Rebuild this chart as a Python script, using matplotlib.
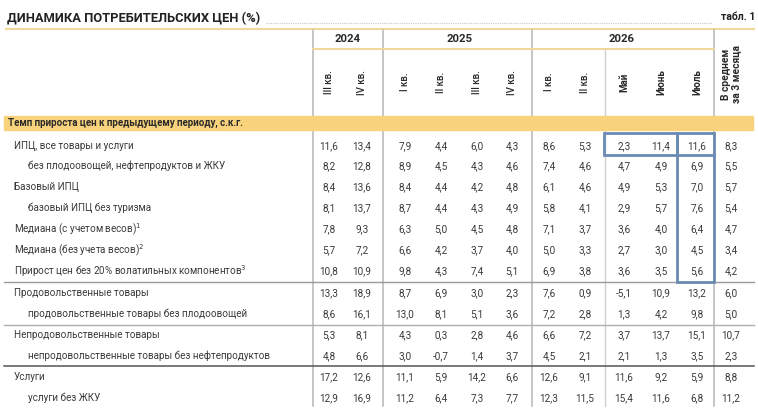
import matplotlib
matplotlib.use("Agg")
import matplotlib.pyplot as plt
from matplotlib.patches import Rectangle

plt.rcParams['font.family'] = ['Roboto', 'DejaVu Sans']

# --- data ---
years = ['2024', '2025', '2026']
periods = ['III кв.', 'IV кв.', 'I кв.', 'II кв.', 'III кв.', 'IV кв.',
           'I кв.', 'II кв.', 'Май', 'Июнь', 'Июль', 'В среднем\nза 3 месяца']
section = 'Темп прироста цен к предыдущему периоду, с.к.г.'

row_labels = [
    'ИПЦ, все товары и услуги',
    'без плодоовощей, нефтепродуктов и ЖКУ',
    'Базовый ИПЦ',
    'базовый ИПЦ без туризма',
    'Медиана (с учетом весов)$^1$',
    'Медиана (без учета весов)$^2$',
    'Прирост цен без 20% волатильных компонентов$^3$',
    'Продовольственные товары',
    'продовольственные товары без плодоовощей',
    'Непродовольственные товары',
    'непродовольственные товары без нефтепродуктов',
    'Услуги',
    'услуги без ЖКУ',
]
sub_rows = {1, 3, 8, 10, 12}

cpi_all      = [11.6, 13.4, 7.9, 4.4, 6.0, 4.3, 8.6, 5.3, 2.3, 11.4, 11.6, 8.3]
cpi_ex_vol   = [8.2, 12.8, 8.9, 4.5, 4.3, 4.6, 7.4, 4.6, 4.7, 4.9, 6.9, 5.5]
core         = [8.4, 13.6, 8.4, 4.4, 4.2, 4.8, 6.1, 4.6, 4.9, 5.3, 7.0, 5.7]
core_ex_tour = [8.1, 13.7, 8.7, 4.4, 4.3, 4.9, 5.8, 4.1, 2.9, 5.7, 7.6, 5.4]
median_w     = [7.8, 9.3, 6.3, 5.0, 4.5, 4.8, 7.1, 3.7, 3.6, 4.0, 6.4, 4.7]
median_nw    = [5.7, 7.2, 6.6, 4.2, 3.7, 4.0, 5.0, 3.3, 2.7, 3.0, 4.5, 3.4]
trimmed      = [10.8, 10.9, 9.8, 4.3, 7.4, 5.1, 6.9, 3.8, 3.6, 3.5, 5.6, 4.2]
food         = [13.3, 18.9, 8.7, 6.9, 3.0, 2.3, 7.6, 0.9, -5.1, 10.9, 13.2, 6.0]
food_ex_fv   = [8.6, 16.1, 13.0, 8.1, 5.1, 3.6, 7.2, 2.8, 1.3, 4.2, 9.8, 5.0]
nonfood      = [5.3, 8.1, 4.3, 0.3, 2.8, 4.6, 6.6, 7.2, 3.7, 13.7, 15.1, 10.7]
nonfood_ex   = [4.8, 6.6, 3.0, -0.7, 1.4, 3.7, 4.5, 2.1, 2.1, 1.3, 3.5, 2.3]
services     = [17.2, 12.6, 11.1, 5.9, 14.2, 6.6, 12.6, 9.1, 11.6, 9.2, 5.9, 8.8]
services_ex  = [12.9, 16.9, 11.2, 6.4, 7.3, 7.7, 12.3, 11.5, 15.4, 11.6, 6.8, 11.2]

table = [cpi_all, cpi_ex_vol, core, core_ex_tour, median_w, median_nw, trimmed,
         food, food_ex_fv, nonfood, nonfood_ex, services, services_ex]

# --- layout (pixel coordinates) ---
W, H = 758, 417
col_x = [329, 362, 405, 441, 477, 512, 549, 585, 624, 661, 697, 731]
row_y = [146, 166, 187, 208, 229, 250, 271, 293, 314, 335, 356, 377, 398]
year_x = [348, 460, 622]

fig = plt.figure(figsize=(W / 100, H / 100), dpi=100)
ax = fig.add_axes([0, 0, 1, 1])
ax.set_xlim(0, W)
ax.set_ylim(H, 0)
ax.axis('off')

txt = '#3a3a3a'
grid = '#b5b5b5'
yellow = '#f9d37c'
blue = '#6a8bb3'

# title
ax.text(7, 19, 'ДИНАМИКА ПОТРЕБИТЕЛЬСКИХ ЦЕН (%)', fontsize=9.3, fontweight='bold',
        color='#222222', va='center', ha='left')
ax.plot([266, 712], [23, 23], color='#c8c8c8', lw=0.8, ls=(0, (1, 1)))
ax.text(755, 17, 'табл. 1', fontsize=7.6, fontweight='bold', color='#222222',
        va='center', ha='right')
ax.plot([6, 754], [29, 29], color='#f0d89c', lw=1.5)

# vertical separators
for x in [313, 383, 532, 714]:
    ax.plot([x, x], [30, 406], color=grid, lw=1.1)
ax.plot([605, 605], [50, 406], color='#cfcfcf', lw=1.0)
ax.plot([313, 714], [49, 49], color='#f0d89c', lw=1.5)

# header
for x, y in zip(year_x, years):
    ax.text(x, 39, y, fontsize=8.2, fontweight='bold', color='#2a2a2a', ha='center', va='center')
for i, (x, p) in enumerate(zip(col_x, periods)):
    bold = i >= 8
    ax.text(x, 82 if i < 11 else 74, p, fontsize=7 if i < 11 else 7.4,
            fontweight='bold' if bold else 'medium', color='#2a2a2a',
            rotation=90, ha='center', va='center', linespacing=0.95)

# section band
ax.add_patch(Rectangle((4, 116), 749, 14, color=yellow, zorder=3))
ax.text(8, 123, section, fontsize=7.0, fontweight='bold', color='#2a2a2a',
        ha='left', va='center', zorder=4)

# rows
for i, (lab, vals, y) in enumerate(zip(row_labels, table, row_y)):
    ax.text(28 if i in sub_rows else 14, y, lab, fontsize=7.1, color=txt,
            ha='left', va='center')
    for x, v in zip(col_x, vals):
        ax.text(x, y, f'{v:.1f}'.replace('.', ','), fontsize=7.2, color=txt,
                ha='center', va='center')

# horizontal separators
ax.plot([4, 754], [282, 282], color='#9a9a9a', lw=1.0)
ax.plot([4, 754], [325, 325], color='#b0b0b0', lw=1.0)
ax.plot([4, 754], [366, 366], color='#555555', lw=1.1)

# highlight boxes
ax.add_patch(Rectangle((604, 133), 73, 22, fill=False, ec=blue, lw=2, zorder=5))
ax.add_patch(Rectangle((677, 133), 37, 149, fill=False, ec=blue, lw=2, zorder=5))
ax.plot([677, 714], [155, 155], color=blue, lw=2, zorder=5)

fig.savefig('out.png', dpi=100)
